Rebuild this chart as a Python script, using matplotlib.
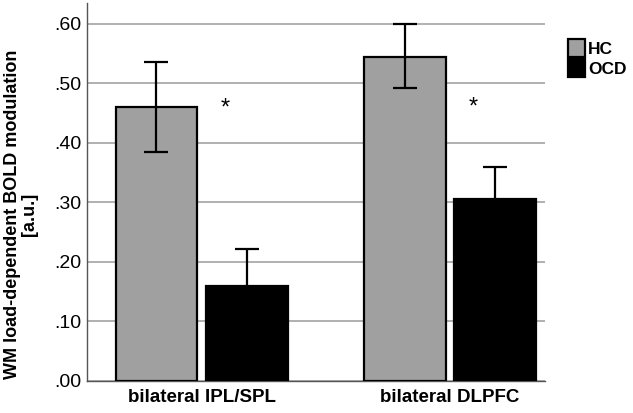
import numpy as np
import matplotlib.pyplot as plt
from matplotlib.patches import Patch

plt.rcParams['font.family'] = ['Liberation Sans', 'DejaVu Sans']

regions = ['bilateral IPL/SPL', 'bilateral DLPFC']
groups = ['HC', 'OCD']
hc_mean = [0.460, 0.545]
hc_lo = [0.385, 0.493]
hc_hi = [0.536, 0.600]
ocd_mean = [0.160, 0.306]
ocd_lo = [0.100, 0.254]
ocd_hi = [0.222, 0.360]
star_y = [0.458, 0.460]
yticks = [0.0, 0.1, 0.2, 0.3, 0.4, 0.5, 0.6]

fig = plt.figure(figsize=(6.33, 4.13), dpi=100)
ax = fig.add_axes([0.137, 0.0775, 0.724, 0.915])

x = np.arange(len(regions))
w = 0.33
off = 0.183
colors = ['#a0a0a0', '#000000']

for i, (m, lo, hi) in enumerate([(hc_mean, hc_lo, hc_hi), (ocd_mean, ocd_lo, ocd_hi)]):
    pos = x + (i * 2 - 1) * off
    m = np.array(m)
    err = np.vstack([m - np.array(lo), np.array(hi) - m])
    ax.bar(pos, m, w, color=colors[i], edgecolor='black', linewidth=1.6, zorder=3)
    ax.errorbar(pos, m, yerr=err, fmt='none', ecolor='black', elinewidth=1.6,
                capsize=8.5, capthick=1.6, zorder=4)

for xi, sy in zip(x, star_y):
    ax.text(xi + 0.093, sy, '*', ha='center', va='center', fontsize=17)

ax.set_ylim(0, 0.635)
ax.set_xlim(-0.464, 1.383)
ax.set_yticks(yticks)
ax.set_yticklabels([('%.2f' % t)[1:] for t in yticks], fontsize=14)
ax.yaxis.grid(True, color='#aaaaaa', linewidth=1.3, zorder=0)
ax.set_axisbelow(True)
ax.tick_params(axis='y', length=0, pad=4)
ax.tick_params(axis='x', length=0, pad=6)
ax.set_xticks(x)
ax.set_xticklabels(regions, fontsize=13.5, fontweight='bold')
for s in ['top', 'right']:
    ax.spines[s].set_visible(False)
ax.spines['left'].set_color('#555555')
ax.spines['bottom'].set_color('#555555')
ax.spines['left'].set_linewidth(1.0)
ax.spines['bottom'].set_linewidth(1.0)

ax.set_ylabel('WM load-dependent BOLD modulation\n[a.u.]', fontsize=13,
              fontweight='bold', linespacing=0.95)
ax.yaxis.set_label_coords(-0.107, 0.44)

handles = [Patch(facecolor=c, edgecolor='black', linewidth=1.6) for c in colors]
leg = fig.legend(handles, groups, loc='upper left', bbox_to_anchor=(0.878, 0.935),
                 frameon=False, handlelength=1.0, handleheight=1.2, handletextpad=0.15,
                 labelspacing=0.15, borderpad=0.2, prop={'weight': 'bold', 'size': 12.5})

fig.savefig('out.png', dpi=100)
